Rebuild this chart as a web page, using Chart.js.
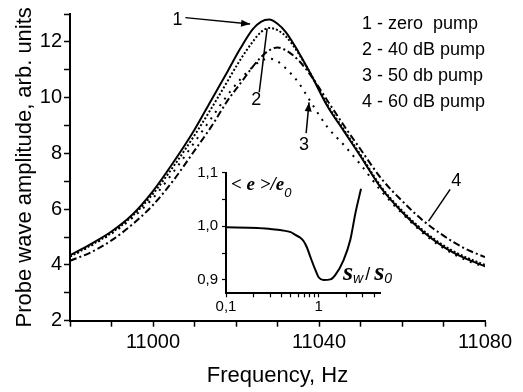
<!DOCTYPE html>
<html>
<head>
<meta charset="utf-8">
<script src="https://cdn.jsdelivr.net/npm/chart.js@4.4.1/dist/chart.umd.min.js"></script>
<style>
    html, body { margin: 0; padding: 0; background: #fff; }
    #wrap { position: relative; width: 523px; height: 392px; overflow: hidden; }
    #mainChart { position: absolute; left: 0; top: 0; }
    #insetChart { position: absolute; left: 180px; top: 150px; }
</style>
</head>
<body>
<div id="wrap">
    <canvas id="mainChart" width="523" height="392"></canvas>
    <canvas id="insetChart" width="230" height="170"></canvas>
</div>
<script>
// Main plot data (frequency in Hz, amplitude in arb. units)
const freq = [10980, 10985, 10990, 10995, 11000, 11005, 11010, 11014, 11018, 11021, 11024, 11026, 11028,
    11030, 11032, 11035, 11038, 11042, 11046, 11050, 11055, 11060, 11065, 11070, 11075, 11080];
const zeroPump = [4.35, 4.75, 5.2, 5.8, 6.65, 7.7, 8.85, 9.9, 10.95, 11.75, 12.45, 12.72, 12.8,
    12.65, 12.35, 11.65, 10.85, 9.7, 8.8, 7.9, 6.75, 5.9, 5.2, 4.65, 4.25, 3.95];
const pump40 = [4.3, 4.7, 5.15, 5.75, 6.55, 7.55, 8.65, 9.6, 10.6, 11.35, 12.0, 12.35, 12.5,
    12.42, 12.2, 11.6, 10.85, 9.75, 8.85, 7.95, 6.8, 5.95, 5.25, 4.7, 4.3, 4.0];
const pump50 = [4.3, 4.68, 5.12, 5.68, 6.4, 7.35, 8.4, 9.25, 10.1, 10.65, 11.1, 11.32, 11.4,
    11.3, 11.05, 10.55, 9.85, 8.95, 8.3, 7.6, 6.65, 5.85, 5.15, 4.6, 4.2, 3.92];
const pump60 = [4.15, 4.45, 4.88, 5.45, 6.15, 7.05, 8.1, 8.95, 9.9, 10.5, 11.1, 11.45, 11.7,
    11.8, 11.7, 11.35, 10.8, 9.9, 9.0, 8.15, 7.1, 6.3, 5.6, 5.05, 4.6, 4.28];

const xTicks = [10980, 10990, 11000, 11010, 11020, 11030, 11040, 11050, 11060, 11070, 11080];
const xLabels = [11000, 11040, 11080];
const yTicks = [2, 3, 4, 5, 6, 7, 8, 9, 10, 11, 12, 13];
const yLabels = [2, 4, 6, 8, 10, 12];

const legendLines = ['1 - zero  pump', '2 - 40 dB pump', '3 - 50 db pump', '4 - 60 dB pump'];

// curve labels: text position, arrow from -> to (data coords)
const curveMarks = [
    { text: '1', at: [11005.9, 12.8], from: [11007.8, 12.87], to: [11023.4, 12.64], head: true },
    { text: '2', at: [11024.9, 9.9], from: [11025.6, 10.2], to: [11027.5, 12.48], head: false },
    { text: '3', at: [11036.4, 8.3], from: [11036.9, 8.73], to: [11037.6, 9.83], head: true },
    { text: '4', at: [11073.1, 7.02], from: [11071.6, 6.71], to: [11066.4, 5.57], head: false }
];

// Inset data
const ratio = [0.1, 0.22, 0.3, 0.4, 0.5, 0.56, 0.63, 0.69, 0.75, 0.81, 0.92, 1.0, 1.13, 1.34, 1.51, 1.86, 2.2, 2.5, 2.87];
const epsRatio = [0.998, 0.997, 0.995, 0.9925, 0.989, 0.984, 0.979, 0.972, 0.96, 0.944, 0.919, 0.905, 0.9, 0.901, 0.909, 0.937, 0.975, 1.025, 1.07];
const insetXTicks = [0.1, 0.2, 0.3, 0.4, 0.5, 0.6, 0.7, 0.8, 0.9, 1, 2, 3, 4];
const insetXLabels = [0.1, 1];
const insetYTicks = [0.9, 0.95, 1.0, 1.05, 1.1];
const insetYLabels = [0.9, 1.0, 1.1];

const SANS = '"Liberation Sans", Arial, sans-serif';
const SERIF = '"Liberation Serif", "Times New Roman", serif';

function points(ys, xs) {
    return xs.map((x, i) => ({ x: x, y: ys[i] }));
}

function lineSet(ys, dash) {
    return {
        data: points(ys, freq),
        borderColor: '#000',
        borderWidth: 2,
        borderDash: dash,
        pointRadius: 0,
        fill: false,
        cubicInterpolationMode: 'monotone'
    };
}

function drawArrow(ctx, x1, y1, x2, y2, head) {
    ctx.beginPath();
    ctx.moveTo(x1, y1);
    ctx.lineTo(x2, y2);
    ctx.stroke();
    if (!head) return;
    const a = Math.atan2(y2 - y1, x2 - x1);
    const len = 9, w = 3.5;
    ctx.beginPath();
    ctx.moveTo(x2, y2);
    ctx.lineTo(x2 - len * Math.cos(a) + w * Math.sin(a), y2 - len * Math.sin(a) - w * Math.cos(a));
    ctx.lineTo(x2 - len * Math.cos(a) - w * Math.sin(a), y2 - len * Math.sin(a) + w * Math.cos(a));
    ctx.closePath();
    ctx.fill();
}

const mainNotes = {
    id: 'mainNotes',
    afterDraw(chart) {
        const ctx = chart.ctx;
        const xs = chart.scales.x, ys = chart.scales.y;
        ctx.save();
        ctx.fillStyle = '#000';
        ctx.strokeStyle = '#000';
        ctx.lineWidth = 1.5;

        // legend text, top right
        ctx.font = '18px ' + SANS;
        ctx.textAlign = 'left';
        ctx.textBaseline = 'alphabetic';
        legendLines.forEach((t, i) => ctx.fillText(t, 362, 29 + i * 26));

        // curve numbers and arrows
        ctx.textAlign = 'center';
        ctx.textBaseline = 'middle';
        curveMarks.forEach(m => {
            ctx.fillText(m.text, xs.getPixelForValue(m.at[0]), ys.getPixelForValue(m.at[1]));
            drawArrow(ctx,
                xs.getPixelForValue(m.from[0]), ys.getPixelForValue(m.from[1]),
                xs.getPixelForValue(m.to[0]), ys.getPixelForValue(m.to[1]), m.head);
        });
        ctx.restore();
    }
};

new Chart(document.getElementById('mainChart'), {
    type: 'line',
    data: {
        datasets: [
            lineSet(zeroPump, []),
            lineSet(pump40, [2, 2]),
            lineSet(pump50, [2, 6]),
            lineSet(pump60, [7, 3, 2, 3])
        ]
    },
    options: {
        responsive: false,
        animation: false,
        layout: { padding: { top: 14, right: 38, left: 0, bottom: 0 } },
        plugins: { legend: { display: false }, tooltip: { enabled: false } },
        scales: {
            x: {
                type: 'linear',
                min: 10980,
                max: 11080,
                afterBuildTicks: s => { s.ticks = xTicks.map(v => ({ value: v })); },
                afterFit: s => { s.height = 71.3; },
                border: { color: '#000', width: 2 },
                grid: { drawOnChartArea: false, tickLength: 6, tickColor: '#000', tickWidth: 1.5 },
                ticks: {
                    color: '#000',
                    font: { family: SANS, size: 20 },
                    padding: 4,
                    maxRotation: 0,
                    autoSkip: false,
                    callback: v => xLabels.includes(v) ? String(v) : ''
                },
                title: {
                    display: true,
                    text: 'Frequency, Hz',
                    color: '#000',
                    font: { family: SANS, size: 22 },
                    padding: { top: 0, bottom: 3 }
                }
            },
            y: {
                min: 2,
                max: 13,
                afterBuildTicks: s => { s.ticks = yTicks.map(v => ({ value: v })); },
                afterFit: s => { s.width = 70; },
                border: { color: '#000', width: 2 },
                grid: { drawOnChartArea: false, tickLength: 6, tickColor: '#000', tickWidth: 1.5 },
                ticks: {
                    color: '#000',
                    font: { family: SANS, size: 20 },
                    padding: 2,
                    autoSkip: false,
                    callback: v => yLabels.includes(v) ? String(v) : ''
                },
                title: {
                    display: true,
                    text: 'Probe wave amplitude, arb. units',
                    color: '#000',
                    font: { family: SANS, size: 22 },
                    padding: { top: 12, bottom: 0 }
                }
            }
        }
    },
    plugins: [mainNotes]
});

// Inset
function near(list, v) {
    return list.some(t => Math.abs(t - v) < 1e-6);
}

function drawPieces(ctx, x, y, pieces) {
    pieces.forEach(p => {
        ctx.font = p.font;
        ctx.fillText(p.text, x, y + (p.dy || 0));
        x += ctx.measureText(p.text).width + (p.gap || 0);
    });
}

const insetNotes = {
    id: 'insetNotes',
    afterDraw(chart) {
        const ctx = chart.ctx;
        const area = chart.chartArea;
        ctx.save();
        ctx.fillStyle = '#000';
        ctx.textAlign = 'left';
        ctx.textBaseline = 'alphabetic';
        drawPieces(ctx, area.left + 5, area.top + 17, [
            { text: '< e >/e', font: 'italic bold 19px ' + SERIF },
            { text: '0', font: 'italic 13px ' + SANS, dy: 7 }
        ]);
        drawPieces(ctx, area.left + 117, area.bottom - 13, [
            { text: 's', font: 'italic bold 26px ' + SERIF },
            { text: 'w', font: 'italic 14px ' + SANS, dy: 3, gap: 2 },
            { text: '/', font: '18px ' + SANS, gap: 4 },
            { text: 's', font: 'italic bold 26px ' + SERIF },
            { text: '0', font: 'italic 14px ' + SANS, dy: 3 }
        ]);
        ctx.restore();
    }
};

new Chart(document.getElementById('insetChart'), {
    type: 'line',
    data: {
        datasets: [{
            data: points(epsRatio, ratio),
            borderColor: '#000',
            borderWidth: 2,
            pointRadius: 0,
            fill: false,
            cubicInterpolationMode: 'monotone'
        }]
    },
    options: {
        responsive: false,
        animation: false,
        layout: { padding: { top: 22.7, right: 30, left: 0, bottom: 0 } },
        plugins: { legend: { display: false }, tooltip: { enabled: false } },
        scales: {
            x: {
                type: 'logarithmic',
                min: 0.1,
                max: 4.6,
                afterBuildTicks: s => { s.ticks = insetXTicks.map(v => ({ value: v })); },
                afterFit: s => { s.height = 26.7; },
                border: { color: '#000', width: 2 },
                grid: { drawOnChartArea: false, tickLength: 4, tickColor: '#000', tickWidth: 1.2 },
                ticks: {
                    color: '#000',
                    font: { family: SANS, size: 15 },
                    padding: 1,
                    maxRotation: 0,
                    autoSkip: false,
                    callback: v => near(insetXLabels, v) ? (v < 1 ? '0,1' : '1') : ''
                }
            },
            y: {
                min: 0.875,
                max: 1.1,
                afterBuildTicks: s => { s.ticks = insetYTicks.map(v => ({ value: v })); },
                afterFit: s => { s.width = 46; },
                border: { color: '#000', width: 2 },
                grid: { drawOnChartArea: false, tickLength: 4, tickColor: '#000', tickWidth: 1.2 },
                ticks: {
                    color: '#000',
                    font: { family: SANS, size: 15 },
                    padding: 4,
                    autoSkip: false,
                    callback: v => near(insetYLabels, v) ? v.toFixed(1).replace('.', ',') : ''
                }
            }
        }
    },
    plugins: [insetNotes]
});
</script>
</body>
</html>
